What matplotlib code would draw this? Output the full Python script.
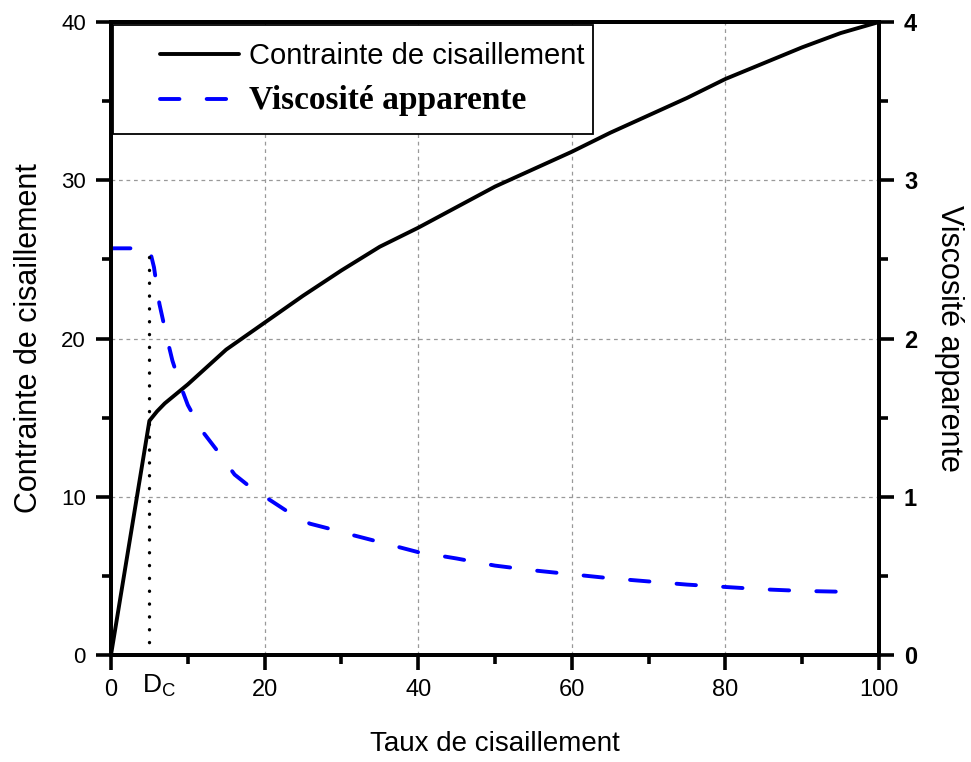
import matplotlib.pyplot as plt
from matplotlib.patches import Rectangle
from matplotlib.ticker import MultipleLocator
from matplotlib.font_manager import FontProperties

plt.rcParams['font.family'] = 'Liberation Sans'
plt.rcParams['mathtext.default'] = 'regular'

# shear rate / shear stress (left axis)
rate = [0, 5, 6, 7, 10, 15, 20, 25, 30, 35, 40, 45, 50, 55, 60, 65, 70,
        75, 80, 85, 90, 95, 100]
stress = [0, 14.8, 15.4, 15.9, 17.1, 19.3, 21.0, 22.7, 24.3, 25.8, 27.0,
          28.3, 29.6, 30.7, 31.8, 33.0, 34.1, 35.2, 36.4, 37.4, 38.4, 39.3, 40.0]

# shear rate / apparent viscosity (right axis)
rate_v = [0, 5, 5.6, 6.3, 7.3, 8.0, 9.0, 10, 11.8, 13.7, 16.1, 18.3, 21, 23.2,
          25.9, 28.3, 31.3, 33.7, 40, 45, 50, 55, 60, 65, 70, 75, 80, 85, 90,
          95, 97.5]
visc = [2.57, 2.57, 2.45, 2.22, 2.0, 1.86, 1.71, 1.58, 1.42, 1.30, 1.14, 1.055,
        0.97, 0.90, 0.83, 0.80, 0.76, 0.73, 0.65, 0.61, 0.565, 0.535, 0.51,
        0.485, 0.465, 0.445, 0.43, 0.415, 0.405, 0.40, 0.38]

dc = 5  # critical shear rate

fig = plt.figure(figsize=(9.71, 7.62), dpi=100)
ax = fig.add_axes([0.1143, 0.1404, 0.7909, 0.8307])
ax2 = ax.twinx()

# curves
l1, = ax.plot(rate, stress, color='black', lw=2.8, solid_capstyle='round',
              solid_joinstyle='round', label='Contrainte de cisaillement')
l2, = ax2.plot(rate_v, visc, color='#0000ff', lw=2.8, dashes=(5, 7),
               dash_capstyle='round', label='Viscosité apparente')
ax2.plot([dc, dc], [0, visc[0]], color='black', lw=2.4,
         ls=(0, (0.05, 3.8)), dash_capstyle='round')

# axes limits and ticks
ax.set_xlim(0, 100)
ax.set_ylim(0, 40)
ax2.set_ylim(0, 4)
ax.set_xticks(range(0, 101, 20))
ax.set_yticks(range(0, 41, 10))
ax2.set_yticks(range(0, 5))
ax.xaxis.set_minor_locator(MultipleLocator(10))
ax.yaxis.set_minor_locator(MultipleLocator(5))
ax2.yaxis.set_minor_locator(MultipleLocator(0.5))

for a in (ax, ax2):
    for s in a.spines.values():
        s.set_linewidth(2.8)
ax.tick_params(which='major', direction='out', length=11, width=2.6)
ax.tick_params(which='minor', direction='out', length=6.5, width=2.6)
ax.tick_params(axis='x', labelsize=17, pad=6)
ax.tick_params(axis='y', labelsize=16, pad=7)
ax2.tick_params(which='major', direction='out', length=11, width=2.6,
                labelsize=17, pad=7)
ax2.tick_params(which='minor', direction='out', length=6.5, width=2.6)
for t in ax2.get_yticklabels():
    t.set_fontweight('bold')

ax.grid(True, which='major', color='#999999', lw=0.9, ls=(0, (3, 3)))

ax.set_xlabel('Taux de cisaillement', fontsize=20, labelpad=22)
ax.set_ylabel('Contrainte de cisaillement', fontsize=22, labelpad=12)
ax2.set_ylabel('Viscosité apparente', fontsize=22, rotation=270, labelpad=34)

# D_c label under the dotted line
ax.annotate('D$_C$', xy=(dc, 0), xycoords='data', xytext=(-5, -13),
            textcoords='offset points', ha='left', va='top', fontsize=19)

# legend with its own frame
box = Rectangle((0.003, 0.823), 0.625, 0.172, transform=ax2.transAxes,
                facecolor='white', edgecolor='black', lw=1.3, zorder=4)
ax2.add_patch(box)
leg = ax2.legend(handles=[l1, l2], loc='upper left',
                 bbox_to_anchor=(0.064, 0.968), frameon=False, borderpad=0,
                 borderaxespad=0, handlelength=2.7, handletextpad=0.36,
                 labelspacing=0.5, prop={'size': 21})
leg.set_zorder(5)
leg.get_texts()[1].set_fontproperties(
    FontProperties(family='Liberation Serif', weight='bold', size=24))

plt.savefig('out.png', dpi=100)
